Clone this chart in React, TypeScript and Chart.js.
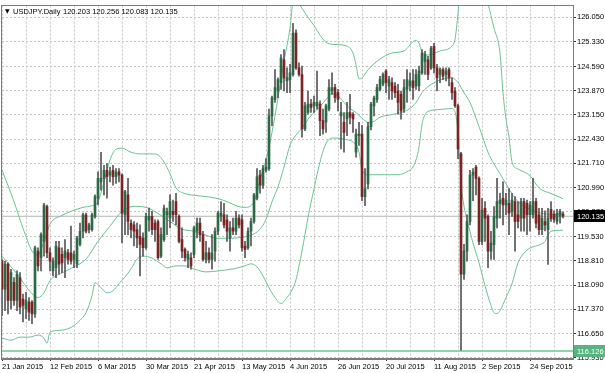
import { useEffect, useRef } from 'react';
import { Chart, registerables } from 'chart.js';

Chart.register(...registerables);

const symbolName = 'USDJPY.Daily';

const opens = [
  118.80, 117.97, 118.71, 117.63, 118.17, 117.63, 118.31, 117.67, 117.38, 117.58,
  117.58, 117.23, 119.10, 118.90, 119.39, 120.42, 119.05, 118.51, 118.61, 119.20,
  119.00, 118.90, 119.05, 119.05, 118.85, 118.71, 119.30, 119.69, 120.18, 119.74,
  119.74, 120.13, 120.67, 121.16, 121.26, 121.50, 121.36, 121.50, 121.31, 121.46,
  121.36, 120.18, 120.77, 119.93, 119.88, 119.74, 119.54, 119.49, 119.20, 120.03,
  120.13, 119.93, 119.98, 118.95, 119.44, 120.18, 120.08, 120.28, 120.57, 120.13,
  119.44, 119.15, 118.85, 118.90, 119.00, 119.69, 119.93, 119.59, 118.85, 119.05,
  118.85, 119.10, 119.69, 120.13, 120.18, 120.03, 119.49, 119.79, 119.69, 120.08,
  120.03, 119.25, 119.20, 119.69, 119.98, 120.67, 121.36, 121.06, 121.50, 121.55,
  123.12, 123.61, 123.86, 124.11, 124.79, 124.16, 124.20, 124.35, 125.58, 124.55,
  124.35, 122.73, 123.22, 123.47, 123.42, 123.42, 123.47, 122.98, 122.93, 123.32,
  123.86, 123.96, 123.81, 123.12, 122.93, 123.03, 123.22, 123.17, 122.04, 122.53,
  122.58, 120.72, 121.10, 122.80, 123.42, 123.61, 123.91, 124.06, 124.45, 124.01,
  124.11, 124.01, 123.86, 123.76, 123.32, 123.91, 124.01, 124.16, 124.01, 124.01,
  124.40, 124.74, 124.79, 124.55, 125.19, 124.55, 124.35, 124.50, 124.35, 124.50,
  124.11, 123.86, 123.42, 121.99, 118.41, 119.10, 119.98, 121.36, 121.60, 121.26,
  119.39, 120.37, 120.13, 119.10, 119.29, 120.08, 120.52, 120.67, 120.47, 120.52,
  120.28, 120.57, 120.18, 120.08, 120.57, 120.52, 120.18, 120.18, 120.57, 120.18,
  119.74, 119.98, 119.74, 120.34, 120.19, 119.98, 120.13, 120.203,
];

const highs = [
  118.85, 118.80, 118.75, 118.56, 118.31, 118.51, 118.46, 117.82, 117.87, 117.72,
  117.63, 119.25, 119.20, 119.64, 120.52, 120.47, 119.20, 118.90, 119.39, 119.39,
  119.20, 119.44, 119.15, 119.84, 119.10, 119.54, 119.93, 120.23, 120.23, 119.93,
  120.23, 120.77, 121.46, 122.04, 121.65, 121.70, 121.60, 121.65, 121.55, 121.55,
  121.40, 120.91, 121.26, 120.03, 119.98, 119.93, 119.88, 119.64, 120.23, 120.38,
  120.28, 120.03, 120.03, 119.79, 120.47, 120.38, 120.77, 120.62, 120.82, 120.18,
  119.79, 119.20, 119.10, 119.05, 119.84, 120.08, 120.08, 119.69, 119.39, 119.20,
  119.59, 119.79, 120.28, 120.57, 120.52, 120.18, 119.98, 120.08, 120.28, 120.18,
  120.18, 119.39, 119.79, 120.08, 120.82, 121.55, 121.50, 121.65, 121.85, 123.32,
  123.71, 124.50, 124.25, 124.94, 125.09, 124.55, 124.65, 125.87, 125.68, 124.70,
  124.60, 123.52, 123.86, 123.61, 123.71, 124.45, 123.57, 123.32, 123.47, 124.20,
  124.40, 124.06, 123.91, 123.52, 123.22, 123.52, 123.76, 123.22, 122.73, 122.93,
  122.83, 121.55, 122.93, 123.52, 123.71, 124.06, 124.30, 124.40, 124.50, 124.30,
  124.25, 124.11, 124.06, 123.86, 124.20, 124.50, 124.40, 124.50, 124.50, 124.60,
  125.09, 125.04, 124.89, 125.19, 125.28, 124.65, 124.55, 124.55, 124.55, 124.55,
  124.25, 123.96, 123.47, 122.04, 119.30, 120.18, 121.50, 121.55, 121.65, 121.31,
  120.67, 120.57, 120.18, 119.69, 120.42, 121.26, 120.82, 121.16, 120.82, 120.96,
  120.82, 120.72, 120.57, 120.67, 120.67, 120.62, 120.57, 121.26, 120.67, 120.37,
  120.37, 120.30, 120.37, 120.57, 120.30, 120.34, 120.34, 120.256,
];

const lows = [
  117.18, 117.33, 117.23, 117.38, 117.48, 117.33, 117.23, 116.99, 117.09, 117.04,
  116.94, 117.13, 118.51, 118.51, 118.95, 118.90, 118.51, 118.36, 118.31, 118.41,
  118.46, 118.31, 118.71, 118.71, 118.61, 118.61, 119.25, 119.49, 119.64, 119.64,
  119.69, 120.08, 120.47, 120.91, 120.77, 120.67, 121.16, 121.06, 121.11, 121.16,
  119.34, 119.59, 119.59, 119.49, 119.25, 119.20, 118.36, 118.95, 119.15, 119.69,
  119.59, 119.39, 118.85, 118.90, 119.39, 119.59, 119.79, 119.98, 119.88, 119.34,
  118.90, 118.80, 118.61, 118.56, 118.90, 119.49, 119.39, 118.80, 118.75, 118.75,
  118.56, 118.80, 119.59, 119.98, 119.79, 119.39, 119.10, 119.59, 119.59, 119.79,
  119.10, 118.90, 119.15, 119.25, 119.93, 120.62, 120.82, 120.96, 121.45, 121.50,
  122.83, 123.52, 123.66, 123.91, 123.86, 123.81, 123.81, 124.30, 124.50, 124.30,
  122.49, 122.68, 123.17, 123.22, 123.22, 123.32, 122.53, 122.58, 122.63, 123.27,
  123.76, 123.52, 123.27, 122.14, 122.04, 122.53, 122.88, 122.63, 121.89, 122.24,
  120.60, 120.45, 120.95, 122.70, 123.12, 123.52, 123.86, 124.01, 123.81, 123.61,
  123.61, 123.66, 123.17, 123.02, 123.22, 123.52, 123.86, 123.61, 123.91, 123.86,
  124.35, 124.35, 124.20, 124.50, 124.40, 123.86, 124.11, 124.20, 124.16, 124.01,
  123.61, 123.37, 121.85, 116.15, 118.26, 118.80, 119.88, 120.60, 120.77, 119.29,
  119.29, 119.39, 118.61, 118.85, 118.85, 119.79, 120.08, 119.88, 120.18, 119.59,
  120.13, 119.10, 119.79, 119.69, 119.69, 119.59, 119.69, 120.08, 119.79, 119.59,
  119.59, 119.70, 118.70, 119.98, 119.95, 119.90, 119.93, 120.083,
];

const closes = [
  117.97, 118.71, 117.63, 118.46, 117.63, 118.41, 117.43, 117.48, 117.63, 117.28,
  117.23, 119.20, 118.66, 119.59, 120.47, 119.05, 118.80, 118.80, 119.25, 118.71,
  118.75, 119.10, 118.85, 118.80, 119.00, 119.49, 119.69, 120.18, 119.69, 119.88,
  120.18, 120.72, 121.26, 121.26, 121.50, 121.31, 121.46, 121.31, 121.46, 121.36,
  120.23, 120.87, 119.98, 119.74, 119.69, 119.49, 119.30, 119.20, 120.13, 120.13,
  119.74, 119.74, 118.90, 119.59, 120.38, 120.28, 120.57, 120.18, 120.18, 119.39,
  119.10, 118.90, 119.00, 118.66, 119.79, 119.93, 119.59, 118.85, 119.05, 118.85,
  119.05, 119.69, 120.23, 120.23, 119.88, 119.69, 119.79, 119.69, 120.08, 119.88,
  119.20, 119.15, 119.69, 119.98, 120.77, 121.31, 121.06, 121.55, 121.60, 123.12,
  123.66, 123.96, 124.20, 124.84, 124.25, 124.25, 124.40, 125.58, 124.55, 124.35,
  122.73, 123.42, 123.47, 123.37, 123.52, 123.52, 122.98, 122.73, 123.42, 123.96,
  123.96, 123.66, 123.61, 123.22, 122.63, 123.22, 123.08, 123.03, 122.58, 122.58,
  120.72, 120.95, 122.80, 123.47, 123.66, 123.96, 124.20, 124.35, 124.11, 124.20,
  123.86, 123.81, 123.52, 123.27, 123.96, 124.20, 124.16, 123.96, 124.35, 124.45,
  124.99, 124.94, 124.35, 125.14, 124.55, 124.25, 124.50, 124.30, 124.45, 124.25,
  123.81, 123.42, 122.14, 118.41, 119.10, 119.98, 121.36, 121.45, 121.26, 119.39,
  120.32, 120.08, 119.10, 119.34, 120.13, 120.57, 120.62, 120.47, 120.62, 120.23,
  120.62, 119.98, 119.98, 120.57, 120.08, 120.18, 120.47, 120.57, 119.93, 119.74,
  120.08, 119.88, 120.08, 120.07, 120.04, 120.22, 120.28, 120.135,
];

// Bollinger bands: [bar index, price]
const upperBand = [
  [0, 121.51], [4, 120.57], [7, 119.78], [10, 119.10], [12, 118.98], [14, 119.39], [16, 119.90],
  [20, 120.16], [23, 120.28], [27, 120.40], [30, 120.45], [32, 120.57], [34, 121.16], [36, 121.81],
  [38, 122.13], [40, 122.16], [43, 122.04], [46, 121.99], [50, 121.99], [52, 121.96], [54, 121.75],
  [56, 121.40], [58, 120.98], [61, 120.81], [65, 120.75], [68, 120.72], [72, 120.66], [75, 120.57],
  [79, 120.42], [81, 120.40], [83, 120.45], [85, 120.81], [86, 121.22], [88, 121.81], [90, 122.63],
  [92, 123.66], [94, 124.75], [96, 125.73], [97, 126.5], [98, 126.6], [99, 126.45], [100, 126.32],
  [102, 126.05], [104, 125.81], [106, 125.52], [108, 125.31], [110, 125.25], [114, 125.22],
  [117, 124.99], [118, 124.64], [119, 124.22], [120, 124.25], [122, 124.49], [126, 124.81],
  [130, 124.99], [134, 125.05], [138, 125.37], [139, 125.28], [140, 125.02], [142, 124.93],
  [146, 125.05], [150, 125.20], [151, 125.40], [152, 126.17], [153, 127.2], [156, 127.6],
  [159, 127.4], [162, 126.46], [164, 125.73], [166, 124.99], [167, 123.81], [168, 123.02],
  [169, 122.49], [170, 121.75], [172, 121.54], [176, 121.34], [179, 120.98], [183, 120.81],
  [187, 120.66],
];

const middleBand = [
  [0, 118.95], [5, 118.42], [10, 117.83], [12, 117.72], [14, 117.86], [16, 118.22], [20, 118.45],
  [24, 118.63], [28, 118.86], [32, 119.39], [36, 119.84], [40, 120.28], [44, 120.43], [48, 120.40],
  [52, 120.22], [56, 119.98], [60, 119.75], [64, 119.69], [68, 119.57], [72, 119.48], [76, 119.48],
  [80, 119.51], [83, 119.57], [86, 119.75], [88, 120.04], [90, 120.57], [92, 121.01], [94, 121.60],
  [96, 122.25], [98, 122.55], [100, 122.75], [102, 123.02], [104, 123.22], [106, 123.40],
  [108, 123.61], [110, 123.78], [112, 123.72], [114, 123.52], [116, 123.34], [118, 123.22],
  [120, 123.05], [122, 122.93], [124, 122.96], [126, 123.08], [130, 123.16], [133, 123.22],
  [136, 123.34], [138, 123.52], [140, 123.81], [142, 123.99], [146, 124.19], [150, 124.25],
  [152, 124.11], [154, 123.81], [156, 123.52], [158, 123.05], [160, 122.55], [162, 122.04],
  [164, 121.69], [166, 121.40], [168, 121.10], [170, 120.81], [172, 120.57], [174, 120.43],
  [176, 120.34], [180, 120.22], [184, 120.19], [187, 120.22],
];

const lowerBand = [
  [0, 116.51], [3, 116.45], [6, 116.54], [9, 116.54], [12, 116.60], [14, 116.51], [15, 116.36],
  [16, 116.69], [19, 116.74], [23, 116.83], [26, 117.04], [28, 117.27], [30, 117.77], [31, 118.16],
  [33, 118.01], [35, 117.86], [37, 117.92], [39, 118.13], [41, 118.33], [43, 118.57], [45, 118.86],
  [47, 118.95], [50, 118.89], [53, 118.72], [55, 118.60], [58, 118.66], [61, 118.66], [64, 118.57],
  [68, 118.48], [72, 118.51], [77, 118.57], [81, 118.66], [83, 118.72], [85, 118.63], [87, 118.36],
  [89, 118.01], [91, 117.72], [93, 117.54], [95, 117.72], [97, 118.0], [98, 118.25], [99, 118.65],
  [100, 119.1], [101, 119.6], [102, 120.1], [104, 120.95], [106, 121.75], [108, 122.3],
  [110, 122.46], [114, 122.43], [118, 122.25], [119, 122.04], [120, 121.51], [122, 121.37],
  [126, 121.37], [132, 121.37], [135, 121.46], [137, 121.60], [138, 121.81], [139, 122.19],
  [140, 122.87], [141, 123.16], [142, 123.25], [146, 123.31], [150, 123.34], [151, 123.25],
  [152, 122.63], [153, 121.16], [154, 120.43], [155, 120.04], [157, 119.34], [159, 118.75],
  [161, 118.07], [163, 117.48], [164, 117.27], [165, 117.24], [166, 117.33], [168, 117.72],
  [170, 118.13], [172, 118.75], [174, 119.04], [176, 119.19], [179, 119.28], [181, 119.39],
  [182, 119.57], [183, 119.69], [187, 119.72],
];

const dateTickLabels = [
  '21 Jan 2015', '12 Feb 2015', '6 Mar 2015', '30 Mar 2015', '21 Apr 2015', '13 May 2015',
  '4 Jun 2015', '26 Jun 2015', '20 Jul 2015', '11 Aug 2015', '2 Sep 2015', '24 Sep 2015',
];

const priceTickValues = [
  126.05, 125.33, 124.59, 123.87, 123.15, 122.43, 121.71, 120.99,
  120.27, 119.53, 118.81, 118.09, 117.37, 116.65, 115.93,
];
const priceTickLabels = [
  '126.050', '125.330', '124.590', '123.870', '123.150', '122.430', '121.710', '120.990',
  '120.270', '119.530', '118.810', '118.090', '117.370', '116.650', '115.930',
];

const levelLine = 116.126;

const Y_MIN = 115.92;
const Y_MAX = 126.403;
const X_MIN = 0;
const X_MAX = 190.33;
const BARS_PER_GRID = 8;
const BARS_PER_LABEL = 16;

const FONT = '"Liberation Sans", Arial, sans-serif';
const BAND_COLOR = '#6cc294';
const BULL = '#2c6a45';
const BEAR = '#7c2323';
const WICK = '#565656';

export default function App() {
  const ref = useRef<HTMLCanvasElement | null>(null);

  useEffect(() => {
    const canvas = ref.current;
    if (!canvas) return;
    const last = closes.length - 1;
    const bid = closes[last];

    const wicks = opens.map((_, i) => ({ x: i, y: [lows[i], highs[i]] }));
    const bodies = opens.map((o, i) => ({
      x: i,
      y: [Math.min(o, closes[i]), Math.max(o, closes[i])],
    }));
    const bandData = (b: number[][]) => b.map(([x, y]) => ({ x, y }));

    const gridValues: number[] = [];
    for (let v = 0; v <= X_MAX; v += BARS_PER_GRID) gridValues.push(v);

    const overlay = {
      id: 'mtOverlay',
      afterDraw(chart: any) {
        const { ctx, chartArea: a, scales } = chart;
        const y = scales.y;
        ctx.save();
        // frame
        ctx.strokeStyle = '#7c7c7c';
        ctx.lineWidth = 1;
        ctx.strokeRect(Math.round(a.left) - 0.5, Math.round(a.top) - 0.5,
          Math.round(a.right - a.left) + 1, Math.round(a.bottom - a.top) + 1);
        // header
        ctx.fillStyle = '#000';
        ctx.textBaseline = 'middle';
        ctx.font = `6px "DejaVu Sans", sans-serif`;
        ctx.fillText('▼', a.left + 3, a.top + 6);
        ctx.font = `7.5px ${FONT}`;
        ctx.fillText(symbolName, a.left + 11, a.top + 6.5);
        const ohlc = [opens[last], highs[last], lows[last], closes[last]]
          .map((v) => v.toFixed(3)).join(' ');
        ctx.fillText(ohlc, a.left + 61, a.top + 6.5);
        // price boxes
        const boxX = Math.round(a.right) + 1;
        const by = Math.round(y.getPixelForValue(bid));
        ctx.fillStyle = '#000';
        ctx.fillRect(boxX, by - 6, 605 - boxX, 12);
        ctx.fillStyle = '#fff';
        ctx.fillText(bid.toFixed(3), boxX + 3, by + 0.5);
        const ly = Math.round(y.getPixelForValue(levelLine));
        ctx.fillStyle = '#57b47f';
        ctx.fillRect(boxX, ly - 6, 605 - boxX, 12);
        ctx.fillStyle = '#fff';
        ctx.fillText(levelLine.toFixed(3), boxX + 3, ly + 0.5);
        ctx.restore();
      },
    };

    const chart = new Chart(canvas, {
      type: 'bar',
      data: {
        datasets: [
          {
            type: 'line',
            data: [{ x: X_MIN, y: bid }, { x: X_MAX, y: bid }],
            borderColor: '#b4b4b4',
            borderWidth: 1,
            pointRadius: 0,
            order: 30,
          } as any,
          {
            type: 'line',
            data: [{ x: X_MIN, y: levelLine }, { x: X_MAX, y: levelLine }],
            borderColor: '#8fd2ac',
            borderWidth: 2,
            pointRadius: 0,
            order: 29,
          } as any,
          ...[upperBand, middleBand, lowerBand].map((b) => ({
            type: 'line',
            data: bandData(b),
            borderColor: BAND_COLOR,
            borderWidth: 1,
            pointRadius: 0,
            cubicInterpolationMode: 'monotone',
            order: 10,
          } as any)),
          {
            type: 'bar',
            data: wicks,
            backgroundColor: WICK,
            barThickness: 1,
            grouped: false,
            order: 2,
          } as any,
          {
            type: 'bar',
            data: bodies,
            backgroundColor: (c: any) =>
              closes[c.dataIndex] >= opens[c.dataIndex] ? BULL : BEAR,
            barThickness: 2,
            minBarLength: 1,
            grouped: false,
            order: 1,
          } as any,
        ],
      },
      options: {
        responsive: false,
        animation: false,
        devicePixelRatio: 1,
        layout: { padding: { left: 2, top: 2, right: 0, bottom: 0 } },
        plugins: {
          legend: { display: false },
          tooltip: { enabled: false },
        },
        scales: {
          x: {
            type: 'linear',
            min: X_MIN,
            max: X_MAX,
            offset: false,
            afterBuildTicks: (s: any) => {
              s.ticks = gridValues.map((value) => ({ value }));
            },
            afterFit: (s: any) => {
              s.height = 15;
            },
            grid: {
              offset: false,
              color: '#c4c4c4',
              lineWidth: 1,
              drawTicks: true,
              tickLength: 3,
              tickColor: (c: any) =>
                c.tick && c.tick.value % BARS_PER_LABEL === 0 ? '#333' : 'rgba(0,0,0,0)',
              tickBorderDash: [],
            },
            border: { display: true, color: '#7c7c7c', dash: [2, 2] },
            ticks: {
              autoSkip: false,
              maxRotation: 0,
              minRotation: 0,
              align: 'start',
              padding: 1,
              color: '#000',
              font: { family: FONT, size: 7.5 },
              callback: (v: any) => {
                const n = Number(v);
                return n % BARS_PER_LABEL === 0 ? dateTickLabels[n / BARS_PER_LABEL] ?? '' : '';
              },
            },
          },
          y: {
            type: 'linear',
            position: 'right',
            min: Y_MIN,
            max: Y_MAX,
            afterBuildTicks: (s: any) => {
              s.ticks = [...priceTickValues].sort((p, q) => p - q).map((value) => ({ value }));
            },
            afterFit: (s: any) => {
              s.width = 32;
            },
            grid: {
              color: '#c4c4c4',
              lineWidth: 1,
              drawTicks: true,
              tickLength: 3,
              tickColor: '#333',
              tickBorderDash: [],
            },
            border: { display: true, color: '#7c7c7c', dash: [2, 2] },
            ticks: {
              padding: 1,
              color: '#000',
              font: { family: FONT, size: 7.5 },
              callback: (v: any) => {
                const idx = priceTickValues.findIndex((p) => Math.abs(p - Number(v)) < 1e-6);
                return idx >= 0 ? priceTickLabels[idx] : '';
              },
            },
          },
        },
      } as any,
      plugins: [overlay],
    });

    return () => chart.destroy();
  }, []);

  return (
    <div style={{ position: 'absolute', left: 0, top: 0, width: 605, height: 373, background: '#fff' }}>
      <canvas ref={ref} width={605} height={373} style={{ width: 605, height: 373, display: 'block' }} />
    </div>
  );
}
